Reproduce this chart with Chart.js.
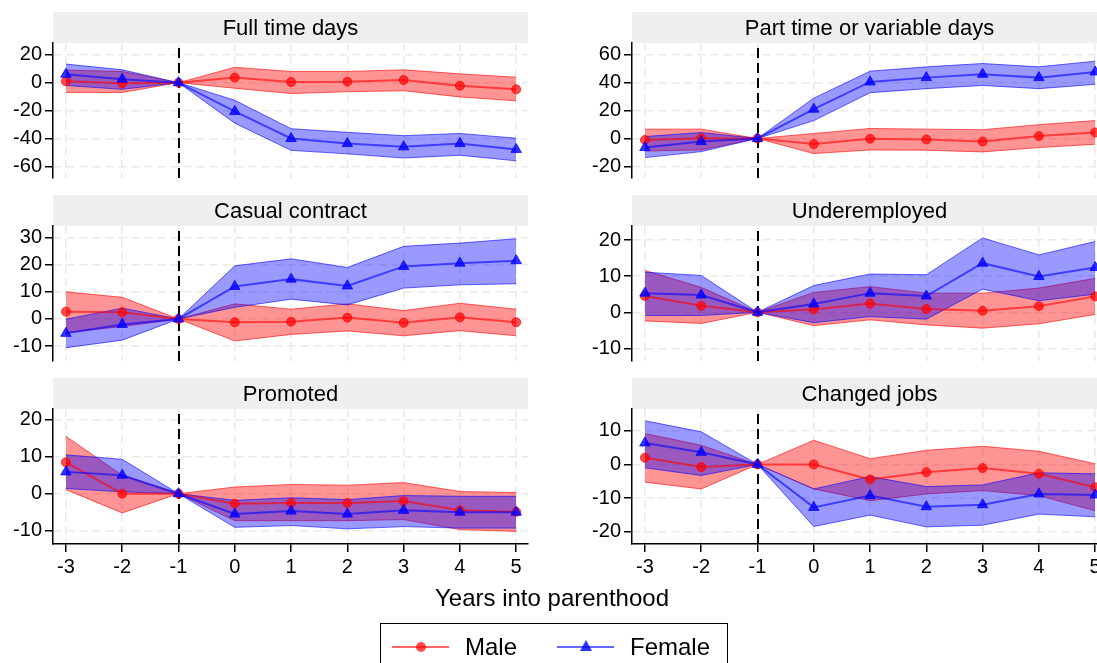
<!DOCTYPE html>
<html>
<head>
<meta charset="utf-8">
<title>Years into parenthood</title>
<script src="https://cdn.jsdelivr.net/npm/chart.js@4.4.1/dist/chart.umd.min.js"></script>
<style>
  html, body { margin: 0; padding: 0; background: #fff; }
  #figure {
    position: relative;
    width: 1097px;
    height: 663px;
    overflow: hidden;
    font-family: 'Liberation Sans', Arial, sans-serif;
    color: #000;
  }
  #figure canvas { position: absolute; }
  #xtitle {
    position: absolute;
    left: 352px;
    width: 400px;
    top: 584px;
    text-align: center;
    font-size: 24px;
    line-height: 28px;
  }
  #legend {
    position: absolute;
    left: 380px;
    top: 623px;
    width: 346px;
    height: 60px;
    border: 1.5px solid #000;
    font-size: 24px;
  }
  .key-line { position: absolute; top: 22px; width: 57px; height: 2px; }
  .key-text { position: absolute; top: 9px; line-height: 28px; }
  .key-dot {
    position: absolute; top: 18px; width: 10px; height: 10px;
    border-radius: 50%; background: rgba(255, 0, 0, 0.7);
  }
  .key-tri {
    position: absolute; top: 16px; width: 0; height: 0;
    border-left: 6px solid transparent;
    border-right: 6px solid transparent;
    border-bottom: 11px solid rgba(0, 0, 255, 0.8);
  }
</style>
</head>
<body>
<div id="figure">
  <canvas id="panel0"></canvas>
  <canvas id="panel1"></canvas>
  <canvas id="panel2"></canvas>
  <canvas id="panel3"></canvas>
  <canvas id="panel4"></canvas>
  <canvas id="panel5"></canvas>
  <div id="xtitle">Years into parenthood</div>
  <div id="legend">
    <span class="key-line" style="left:11px; background:rgba(255,0,0,0.6);"></span>
    <span class="key-dot" style="left:35px;"></span>
    <span class="key-text" style="left:84px;">Male</span>
    <span class="key-line" style="left:176px; background:rgba(0,0,255,0.6);"></span>
    <span class="key-tri" style="left:199px;"></span>
    <span class="key-text" style="left:249px;">Female</span>
  </div>
</div>
<script>
  // x axis: years relative to the birth of the first child
  const YEARS = [-3, -2, -1, 0, 1, 2, 3, 4, 5];
  const EVENT_YEAR = -1;
  const X_LIMITS = [-3.23, 5.21];

  const TITLES = [
    'Full time days',
    'Part time or variable days',
    'Casual contract',
    'Underemployed',
    'Promoted',
    'Changed jobs',
  ];

  const Y_TICKS = [
    [-60, -40, -20, 0, 20],
    [-20, 0, 20, 40, 60],
    [-10, 0, 10, 20, 30],
    [-10, 0, 10, 20],
    [-10, 0, 10, 20],
    [-20, -10, 0, 10],
  ];
  const Y_LIMITS = [
    [-68.3, 28.4],
    [-28.3, 68.4],
    [-15.5, 34.3],
    [-13.5, 23.9],
    [-13.6, 22.9],
    [-23.7, 16.5],
  ];

  // Full time days
  const FT_MALE = [1.0, -0.5, 0, 3.6, 0.5, 0.7, 1.9, -2.2, -4.8];
  const FT_MALE_HI = [9, 8, 0, 11, 8, 8, 9.2, 6.3, 3.9];
  const FT_MALE_LO = [-7, -7, 0, -4, -7.8, -6.5, -5.8, -10.2, -13];
  const FT_FEMALE = [6, 2.5, 0, -20.6, -40, -43.6, -46, -43.6, -47.8];
  const FT_FEMALE_HI = [13.3, 9.2, 0, -12.6, -33, -35.6, -38, -36.4, -39.8];
  const FT_FEMALE_LO = [-2, -4.8, 0, -29, -48.5, -51, -54, -52, -56];

  // Part time or variable days
  const PT_MALE = [-1, 0.2, 0, -4, -0.2, -0.7, -2.2, 1.7, 4.3];
  const PT_MALE_HI = [6.7, 6.7, 0, 3.6, 7.2, 6.7, 6.3, 9.9, 12.8];
  const PT_MALE_LO = [-9, -8.2, 0, -10.8, -8.2, -8.4, -9.6, -6.5, -4.1];
  const PT_FEMALE = [-6.5, -2.2, 0, 21, 40.5, 43.6, 46, 43.6, 47.7];
  const PT_FEMALE_HI = [1.4, 4.3, 0, 28.9, 48.2, 51.3, 53.7, 51.3, 55.4];
  const PT_FEMALE_LO = [-13.7, -9.4, 0, 12.8, 32.8, 35.7, 38, 35.7, 38.8];

  // Casual contract
  const CC_MALE = [2.7, 2.5, 0, -1.2, -1, 0.5, -1.4, 0.6, -1.2];
  const CC_MALE_HI = [10, 8, 0, 5.6, 3.6, 5.6, 3.1, 5.8, 3.6];
  const CC_MALE_LO = [-5, -2.8, 0, -8.1, -5.7, -4.4, -6.2, -4.3, -6.2];
  const CC_FEMALE = [-5.3, -2, 0, 12, 14.7, 12.2, 19.4, 20.6, 21.5];
  const CC_FEMALE_HI = [-0.1, 4, 0, 19.6, 22.2, 19, 26.8, 28, 29.6];
  const CC_FEMALE_LO = [-10.6, -7.8, 0, 4.3, 7.3, 5.2, 11.4, 12.6, 13];

  // Underemployed
  const UE_MALE = [4.5, 1.8, 0, 0.8, 2.4, 0.9, 0.4, 1.7, 4.4];
  const UE_MALE_HI = [11.6, 6.9, 0, 5.5, 7.1, 5.3, 5.3, 6.7, 9.4];
  const UE_MALE_LO = [-2.4, -3.1, 0, -3.7, -2.1, -3.5, -4.4, -3.2, -0.6];
  const UE_FEMALE = [5.3, 4.8, 0, 2.3, 5.3, 4.5, 13.6, 9.9, 12.4];
  const UE_FEMALE_HI = [11.1, 10.2, 0, 7.4, 10.6, 10.4, 20.6, 15.9, 19.6];
  const UE_FEMALE_LO = [-0.9, -0.9, 0, -2.9, -1.2, -1.9, 6.4, 3.2, 5];

  // Promoted
  const PR_MALE = [8.5, 0, 0, -2.7, -2.5, -2.5, -2, -4.5, -4.9];
  const PR_MALE_HI = [15.5, 5, 0, 1.8, 2.5, 2.3, 3, 0.6, 0.3];
  const PR_MALE_LO = [1.1, -5.2, 0, -7.3, -7.3, -7.3, -7, -9.7, -10.2];
  const PR_FEMALE = [5.9, 5, 0, -5.5, -4.7, -5.5, -4.5, -5, -5];
  const PR_FEMALE_HI = [10.5, 9.3, 0, -1.8, -1.1, -1.6, -0.5, -0.7, -0.7];
  const PR_FEMALE_LO = [1.4, 0.5, 0, -9.1, -8.6, -9.5, -8.9, -9.3, -9.3];

  // Changed jobs
  const CJ_MALE = [2, -0.8, 0, 0, -4.5, -2.3, -1.1, -2.8, -6.8];
  const CJ_MALE_HI = [9.2, 5.7, 0, 7.2, 1.7, 4.2, 5.4, 3.9, 0.2];
  const CJ_MALE_LO = [-5.3, -7.3, 0, -7.3, -10.8, -8.8, -7.8, -9.3, -13.8];
  const CJ_FEMALE = [6.4, 3.6, 0, -12.8, -9.3, -12.6, -12, -8.8, -9.1];
  const CJ_FEMALE_HI = [13, 9.7, 0, -7.3, -3.6, -6.6, -6.1, -2.5, -2.8];
  const CJ_FEMALE_LO = [-1, -3.3, 0, -18.5, -15.1, -18.6, -18.1, -14.8, -15.6];

  const SERIES = [
    [FT_MALE, FT_MALE_HI, FT_MALE_LO, FT_FEMALE, FT_FEMALE_HI, FT_FEMALE_LO],
    [PT_MALE, PT_MALE_HI, PT_MALE_LO, PT_FEMALE, PT_FEMALE_HI, PT_FEMALE_LO],
    [CC_MALE, CC_MALE_HI, CC_MALE_LO, CC_FEMALE, CC_FEMALE_HI, CC_FEMALE_LO],
    [UE_MALE, UE_MALE_HI, UE_MALE_LO, UE_FEMALE, UE_FEMALE_HI, UE_FEMALE_LO],
    [PR_MALE, PR_MALE_HI, PR_MALE_LO, PR_FEMALE, PR_FEMALE_HI, PR_FEMALE_LO],
    [CJ_MALE, CJ_MALE_HI, CJ_MALE_LO, CJ_FEMALE, CJ_FEMALE_HI, CJ_FEMALE_LO],
  ];

  const FONT = "'Liberation Sans', Arial, sans-serif";
  const RED_LINE = 'rgba(255, 0, 0, 0.6)';
  const RED_MARK = 'rgba(255, 0, 0, 0.7)';
  const RED_FILL = 'rgba(255, 0, 0, 0.42)';
  const BLUE_LINE = 'rgba(0, 0, 255, 0.6)';
  const BLUE_MARK = 'rgba(0, 0, 255, 0.8)';
  const BLUE_FILL = 'rgba(0, 0, 255, 0.4)';
  const GRID = '#e9e9e9';

  const BAR_H = 31;
  const PLOT_H = 135;
  const PANEL_W = 540;
  const COLUMN_LEFT = [0, 579];
  const ROW_TOP = [12, 195, 378];

  Chart.defaults.font.family = FONT;
  Chart.defaults.color = '#000';

  // grey strip with the panel title, plus the dashed reference line at t = -1
  const panelDecor = {
    id: 'panelDecor',
    beforeDraw(chart, args, opts) {
      const { ctx, chartArea } = chart;
      ctx.save();
      ctx.fillStyle = '#efefef';
      ctx.fillRect(chartArea.left, chartArea.top - BAR_H, chartArea.right - chartArea.left, BAR_H);
      ctx.fillStyle = '#000';
      ctx.font = '22px ' + FONT;
      ctx.textAlign = 'center';
      ctx.textBaseline = 'middle';
      ctx.fillText(opts.text, (chartArea.left + chartArea.right) / 2, chartArea.top - BAR_H / 2 + 1);
      ctx.restore();
    },
    beforeDatasetsDraw(chart) {
      const { ctx, chartArea, scales } = chart;
      const x = Math.round(scales.x.getPixelForValue(EVENT_YEAR));
      ctx.save();
      ctx.strokeStyle = '#000';
      ctx.lineWidth = 2;
      ctx.setLineDash([10, 5]);
      ctx.beginPath();
      ctx.moveTo(x, chartArea.bottom);
      ctx.lineTo(x, chartArea.top);
      ctx.stroke();
      ctx.restore();
    },
  };

  function toPoints(values) {
    return values.map((y, i) => ({ x: YEARS[i], y }));
  }

  function bandEdge(values, fill, edge, toNext, order) {
    return {
      data: toPoints(values),
      borderColor: edge,
      borderWidth: 1,
      backgroundColor: fill,
      fill: toNext ? '+1' : false,
      pointRadius: 0,
      tension: 0,
      order,
    };
  }

  function meanLine(values, color, mark, style, radius, order) {
    return {
      data: toPoints(values),
      borderColor: color,
      borderWidth: 2,
      fill: false,
      pointStyle: style,
      pointRadius: radius,
      pointBackgroundColor: mark,
      pointBorderColor: mark,
      pointBorderWidth: 1,
      tension: 0,
      order,
    };
  }

  function buildPanel(index) {
    const canvas = document.getElementById('panel' + index);
    const isBottom = index >= 4;
    const xHeight = isBottom ? 44 : 16;
    canvas.width = PANEL_W;
    canvas.height = BAR_H + PLOT_H + xHeight;
    canvas.style.left = COLUMN_LEFT[index % 2] + 'px';
    canvas.style.top = ROW_TOP[Math.floor(index / 2)] + 'px';

    const [male, maleHi, maleLo, female, femaleHi, femaleLo] = SERIES[index];
    const yTicks = Y_TICKS[index];

    return new Chart(canvas, {
      type: 'line',
      data: {
        datasets: [
          bandEdge(maleHi, RED_FILL, RED_LINE, true, 6),
          bandEdge(maleLo, RED_FILL, RED_LINE, false, 5),
          bandEdge(femaleHi, BLUE_FILL, BLUE_LINE, true, 4),
          bandEdge(femaleLo, BLUE_FILL, BLUE_LINE, false, 3),
          meanLine(male, RED_LINE, RED_MARK, 'circle', 4.5, 2),
          meanLine(female, BLUE_LINE, BLUE_MARK, 'triangle', 6, 1),
        ],
      },
      options: {
        responsive: false,
        animation: false,
        events: [],
        layout: { padding: { top: BAR_H, right: 12, left: 0, bottom: 0 } },
        plugins: {
          legend: { display: false },
          tooltip: { enabled: false },
          panelDecor: { text: TITLES[index] },
        },
        scales: {
          x: {
            type: 'linear',
            min: X_LIMITS[0],
            max: X_LIMITS[1],
            afterBuildTicks: (scale) => {
              scale.ticks = YEARS.map((value) => ({ value }));
            },
            afterFit: (scale) => {
              scale.height = xHeight;
            },
            grid: {
              color: GRID,
              lineWidth: 1.5,
              drawTicks: isBottom,
              tickLength: 8,
              tickColor: '#000',
              tickWidth: 1.5,
            },
            border: { display: isBottom, color: '#000', width: 1.5, dash: [8, 5] },
            ticks: {
              display: isBottom,
              autoSkip: false,
              maxRotation: 0,
              padding: 3,
              font: { size: 20 },
              callback: (value) => String(value),
            },
          },
          y: {
            type: 'linear',
            position: 'left',
            min: Y_LIMITS[index][0],
            max: Y_LIMITS[index][1],
            afterBuildTicks: (scale) => {
              scale.ticks = yTicks.map((value) => ({ value }));
            },
            afterFit: (scale) => {
              scale.width = 53;
            },
            grid: {
              color: GRID,
              lineWidth: 1.5,
              drawTicks: true,
              tickLength: 8,
              tickColor: '#000',
              tickWidth: 1.5,
            },
            border: { display: true, color: '#000', width: 1.5, dash: [8, 5] },
            ticks: {
              padding: 3,
              font: { size: 20 },
              callback: (value) => String(value),
            },
          },
        },
      },
      plugins: [panelDecor],
    });
  }

  TITLES.forEach((title, index) => buildPanel(index));
</script>
</body>
</html>
